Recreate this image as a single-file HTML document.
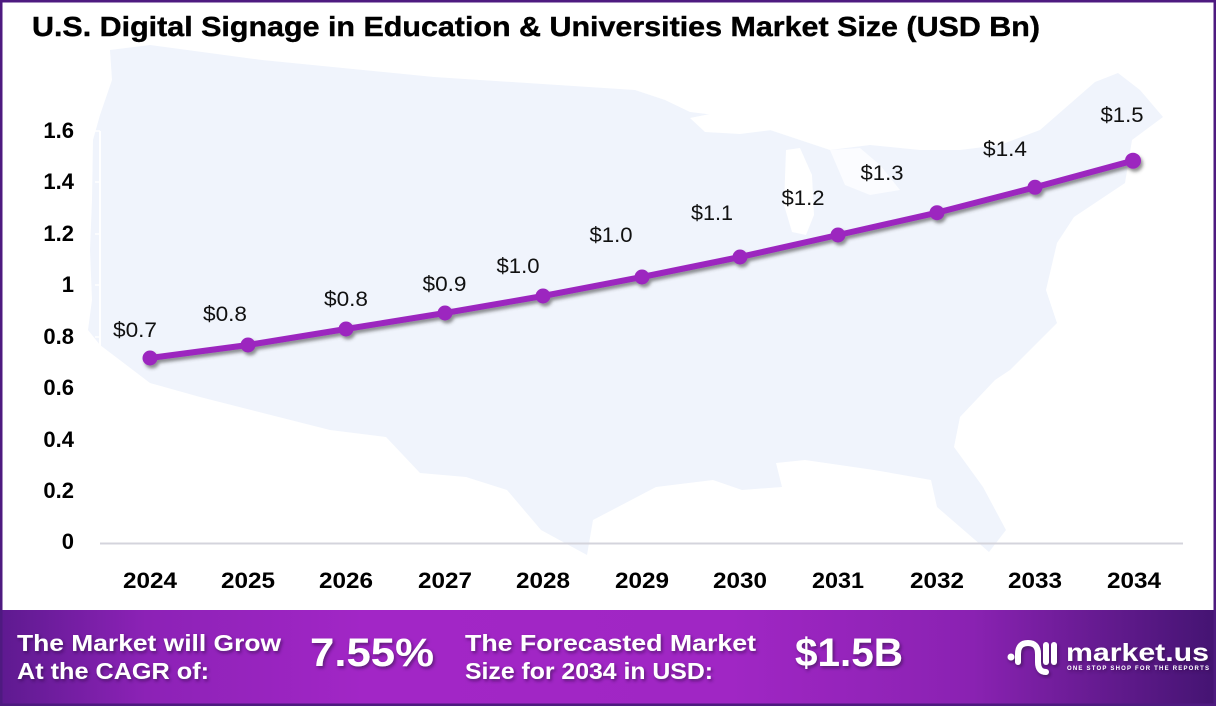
<!DOCTYPE html>
<html><head><meta charset="utf-8">
<style>
html,body{margin:0;padding:0;background:#fff;}
svg{display:block;}
</style></head>
<body>
<svg width="1216" height="706" viewBox="0 0 1216 706" xmlns="http://www.w3.org/2000/svg">
<defs>
<linearGradient id="band" x1="0" y1="0" x2="1" y2="0">
<stop offset="0" stop-color="#5e1a90"/>
<stop offset="0.12" stop-color="#8c22b6"/>
<stop offset="0.3" stop-color="#a226c6"/>
<stop offset="0.6" stop-color="#a026c4"/>
<stop offset="0.8" stop-color="#8a22b2"/>
<stop offset="1" stop-color="#441472"/>
</linearGradient>
<filter id="sh" x="-5%" y="-20%" width="110%" height="140%">
<feDropShadow dx="2" dy="3" stdDeviation="1.6" flood-color="#3a3a3a" flood-opacity="0.55"/>
</filter>
<filter id="tsh" x="-5%" y="-20%" width="110%" height="140%">
<feDropShadow dx="1.5" dy="2" stdDeviation="1.5" flood-color="#2a0a40" flood-opacity="0.6"/>
</filter>
</defs>
<rect x="0" y="0" width="1216" height="706" fill="#fff"/>

<!-- US map background -->
<path fill="#f0f4fc" d="M110,50 L150,45 L262,60 L434,77 L635,90 L665,100 L690,112 L740,118 L770,130 L800,140 L830,150 L870,145 L920,150 L960,150 L1000,145 L1040,130 L1095,82 L1118,73 L1140,90 L1163,117 L1132,140 L1125,183 L1074,217 L1057,243 L1046,290 L1057,323 L1033,347 L1010,370 L995,380 L960,417 L954,447 L983,487 L1006,530 L989,552 L937,507 L931,480 L874,470 L805,460 L776,463 L782,487 L742,490 L713,480 L656,487 L593,520 L587,555 L541,530 L507,490 L466,477 L420,473 L386,437 L330,430 L200,397 L150,383 L100,345 L88,330 L92,300 L90,250 L92,200 L93,140 L100,115 L112,80 Z"/>
<!-- lakes -->
<path fill="#ffffff" d="M690,118 L720,112 L760,120 L772,130 L740,134 L705,132 Z"/>
<path fill="#ffffff" d="M786,150 L800,148 L812,175 L814,215 L806,235 L792,232 L784,205 Z"/>
<path fill="#fbfcff" d="M830,150 L860,148 L880,165 L900,190 L870,195 L845,185 Z"/>

<!-- axes -->
<line x1="100" y1="131" x2="100" y2="543" stroke="#ffffff" stroke-width="2"/>
<g stroke="#ffffff" stroke-width="1.5">
<line x1="95" y1="131" x2="100" y2="131"/><line x1="95" y1="182" x2="100" y2="182"/><line x1="95" y1="234" x2="100" y2="234"/><line x1="95" y1="285" x2="100" y2="285"/><line x1="95" y1="337" x2="100" y2="337"/><line x1="95" y1="388" x2="100" y2="388"/><line x1="95" y1="440" x2="100" y2="440"/><line x1="95" y1="491" x2="100" y2="491"/>
</g>
<line x1="100" y1="543.5" x2="1183" y2="543.5" stroke="#d4d4dc" stroke-width="2"/>

<!-- y labels -->
<g font-family="Liberation Sans, sans-serif" font-weight="bold" font-size="22" fill="#000" text-anchor="end">
<text x="74" y="138">1.6</text>
<text x="74" y="189">1.4</text>
<text x="74" y="241">1.2</text>
<text x="74" y="292">1</text>
<text x="74" y="344">0.8</text>
<text x="74" y="395">0.6</text>
<text x="74" y="447">0.4</text>
<text x="74" y="498">0.2</text>
<text x="74" y="549">0</text>
</g>

<!-- x labels -->
<g font-family="Liberation Sans, sans-serif" font-weight="bold" font-size="22" fill="#000" text-anchor="middle">
<text x="150" y="588" textLength="54" lengthAdjust="spacingAndGlyphs">2024</text>
<text x="248" y="588" textLength="54" lengthAdjust="spacingAndGlyphs">2025</text>
<text x="346" y="588" textLength="54" lengthAdjust="spacingAndGlyphs">2026</text>
<text x="445" y="588" textLength="54" lengthAdjust="spacingAndGlyphs">2027</text>
<text x="543" y="588" textLength="54" lengthAdjust="spacingAndGlyphs">2028</text>
<text x="642" y="588" textLength="54" lengthAdjust="spacingAndGlyphs">2029</text>
<text x="740" y="588" textLength="54" lengthAdjust="spacingAndGlyphs">2030</text>
<text x="838" y="588" textLength="52" lengthAdjust="spacingAndGlyphs">2031</text>
<text x="937" y="588" textLength="54" lengthAdjust="spacingAndGlyphs">2032</text>
<text x="1035" y="588" textLength="54" lengthAdjust="spacingAndGlyphs">2033</text>
<text x="1134" y="588" textLength="54" lengthAdjust="spacingAndGlyphs">2034</text>
</g>

<!-- series -->
<g filter="url(#sh)">
<polyline fill="none" stroke="#9c27bf" stroke-width="6" stroke-linejoin="round" stroke-linecap="round"
 points="150,358 248,345 346,329 445,313 543,296 642,277 740,257 838,235 937,212.7 1035,187.3 1133,160.7"/>
<g fill="#9c27bf">
<circle cx="150" cy="358" r="7.5"/><circle cx="248" cy="345" r="7.5"/><circle cx="346" cy="329" r="7.5"/><circle cx="445" cy="313" r="7.5"/><circle cx="543" cy="296" r="7.5"/><circle cx="642" cy="277" r="7.5"/><circle cx="740" cy="257" r="7.5"/><circle cx="838" cy="235" r="7.5"/><circle cx="937" cy="212.7" r="7.5"/><circle cx="1035" cy="187.3" r="7.5"/><circle cx="1133" cy="160.7" r="8"/>
</g>
</g>

<!-- data labels -->
<g font-family="Liberation Sans, sans-serif" font-size="21" fill="#111" text-anchor="middle">
<text x="135" y="337" textLength="44" lengthAdjust="spacingAndGlyphs">$0.7</text>
<text x="225" y="321" textLength="44" lengthAdjust="spacingAndGlyphs">$0.8</text>
<text x="346" y="306" textLength="44" lengthAdjust="spacingAndGlyphs">$0.8</text>
<text x="444.5" y="291" textLength="44" lengthAdjust="spacingAndGlyphs">$0.9</text>
<text x="518" y="273" textLength="43" lengthAdjust="spacingAndGlyphs">$1.0</text>
<text x="611" y="242" textLength="43" lengthAdjust="spacingAndGlyphs">$1.0</text>
<text x="712" y="220" textLength="42" lengthAdjust="spacingAndGlyphs">$1.1</text>
<text x="803" y="205" textLength="43" lengthAdjust="spacingAndGlyphs">$1.2</text>
<text x="882" y="180" textLength="43" lengthAdjust="spacingAndGlyphs">$1.3</text>
<text x="1005" y="156" textLength="44" lengthAdjust="spacingAndGlyphs">$1.4</text>
<text x="1122" y="122" textLength="43" lengthAdjust="spacingAndGlyphs">$1.5</text>
</g>

<!-- title -->
<text x="32" y="36" font-family="Liberation Sans, sans-serif" font-weight="bold" font-size="28" fill="#000" stroke="#000" stroke-width="0.4" textLength="1008" lengthAdjust="spacingAndGlyphs">U.S. Digital Signage in Education &amp; Universities Market Size (USD Bn)</text>

<!-- footer band -->
<rect x="0" y="610" width="1216" height="96" fill="url(#band)"/>
<g font-family="Liberation Sans, sans-serif" font-weight="bold" fill="#fff" filter="url(#tsh)">
<text x="17" y="651" font-size="23" textLength="264" lengthAdjust="spacingAndGlyphs">The Market will Grow</text>
<text x="17" y="679" font-size="23" textLength="192" lengthAdjust="spacingAndGlyphs">At the CAGR of:</text>
<text x="310" y="666" font-size="40" textLength="124" lengthAdjust="spacingAndGlyphs">7.55%</text>
<text x="465" y="651" font-size="23" textLength="291" lengthAdjust="spacingAndGlyphs">The Forecasted Market</text>
<text x="465" y="679" font-size="23" textLength="248" lengthAdjust="spacingAndGlyphs">Size for 2034 in USD:</text>
<text x="795" y="666" font-size="40" textLength="108" lengthAdjust="spacingAndGlyphs">$1.5B</text>
</g>

<!-- logo -->
<g filter="url(#tsh)">
<circle cx="1011" cy="657" r="3.5" fill="#fff"/>
<path d="M1018,662 L1018,654 Q1018,643 1028,643 Q1038,643 1038,654 L1038,662 Q1038,672 1046,672" fill="none" stroke="#fff" stroke-width="6" stroke-linecap="round"/>
<line x1="1046" y1="645" x2="1046" y2="662" stroke="#fff" stroke-width="6" stroke-linecap="round"/>
<line x1="1054" y1="645" x2="1054" y2="662" stroke="#fff" stroke-width="6" stroke-linecap="round"/>
<text x="1066" y="661" font-family="Liberation Sans, sans-serif" font-weight="bold" font-size="25" fill="#fff" textLength="143" lengthAdjust="spacingAndGlyphs">market.us</text>
<text x="1067" y="670" font-family="Liberation Sans, sans-serif" font-weight="bold" font-size="6" fill="#fff" textLength="142" lengthAdjust="spacing">ONE STOP SHOP FOR THE REPORTS</text>
</g>

<!-- outer border -->
<rect x="1.25" y="1.25" width="1213.5" height="703.5" fill="none" stroke="#4e1a80" stroke-width="2.5"/>
</svg>
</body></html>
